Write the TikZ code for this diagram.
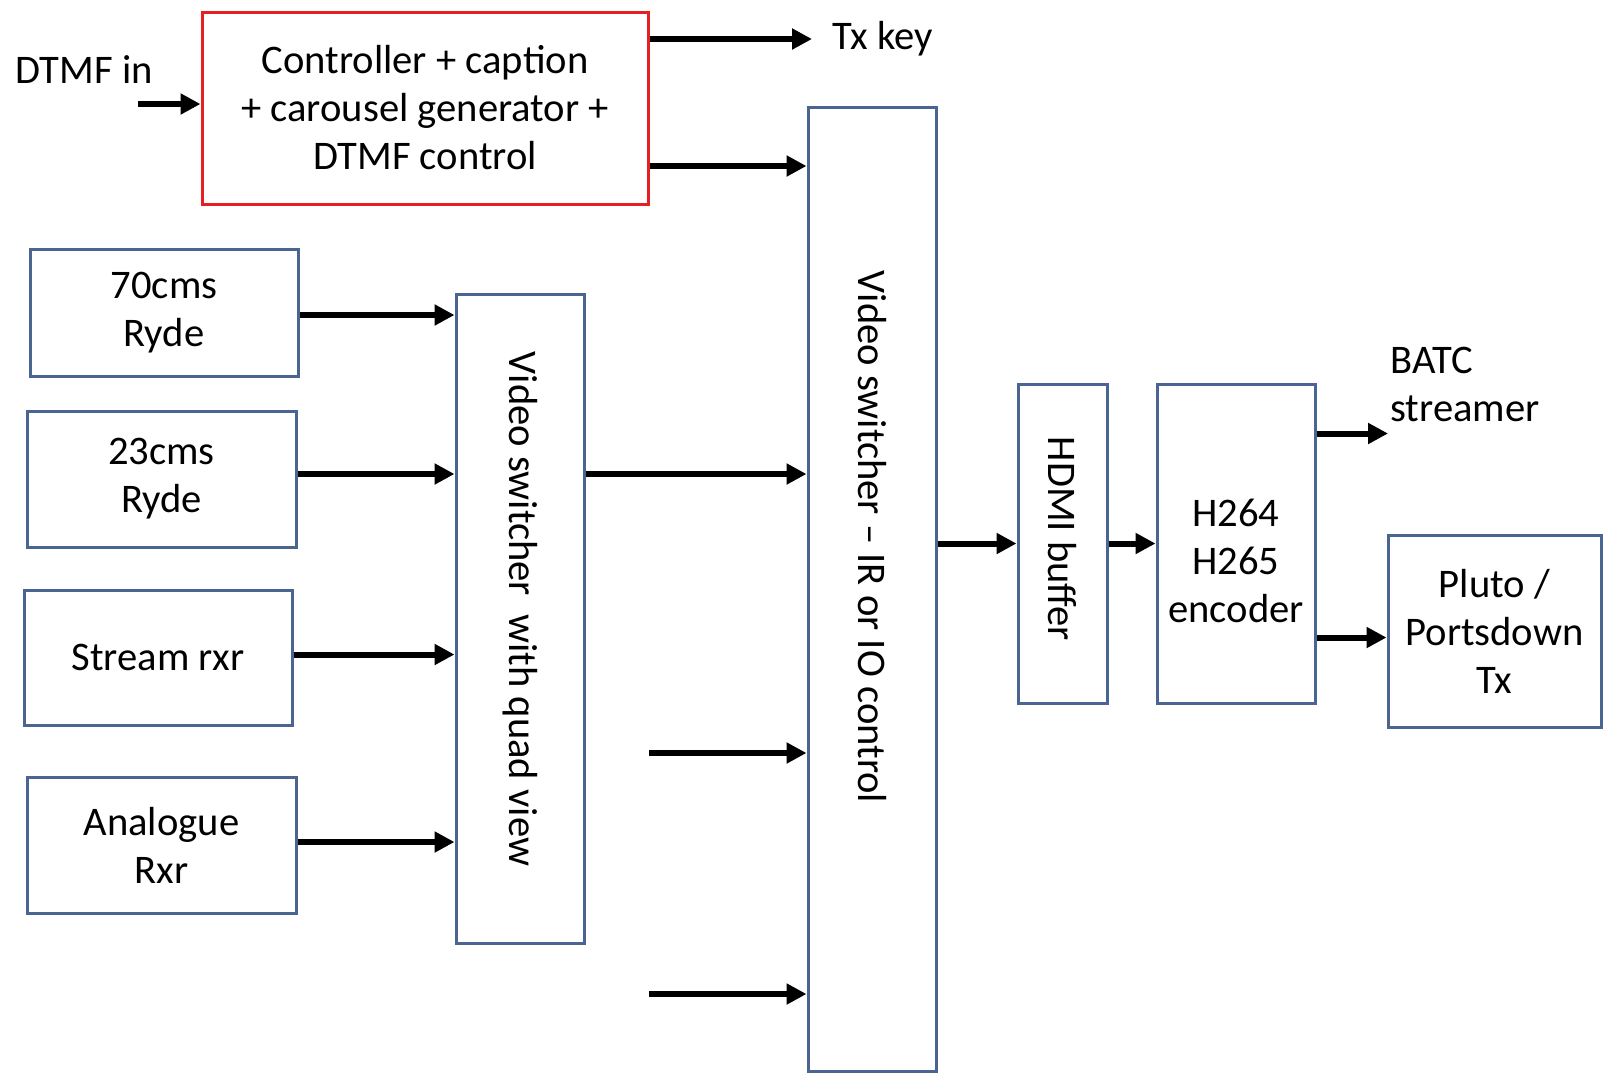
\documentclass[tikz,border=0pt]{standalone}
\usepackage{fontspec}
\setmainfont{Carlito}
\usepackage{tikz}
\usetikzlibrary{arrows.meta}
\definecolor{boxblue}{RGB}{74,101,145}
\definecolor{ctrlred}{RGB}{228,32,36}

\begin{document}
\begin{tikzpicture}[x=0.5pt, y=-0.5pt, >={Triangle[length=10pt,width=10pt]}, font={\fontsize{20.3}{24}\selectfont}]
				\tikzset{
					blkbox/.style={draw=boxblue, line width=1.5pt, rectangle, inner sep=0pt, align=center},
					sig/.style={->, line width=3pt},
				}
				\useasboundingbox (0,0) rectangle (1604,1073);
				% Steuerung oben
				\node[blkbox, draw=ctrlred, minimum width=223pt, minimum height=96pt] (ctrl) at (425,108) {Controller + caption\\+ carousel generator +\\DTMF control};
				\node (dtmfin) at (84,70) {DTMF in};
				\coordinate (dtmf) at (138,104);
				\node[anchor=west, inner sep=10pt] (txkey) at (812,39) {Tx key};
				% Empfaenger links
				\node[blkbox, minimum width=134pt, minimum height=63.5pt] (r70) at (164,313) {70cms\\Ryde};
				\node[blkbox, minimum width=134.5pt, minimum height=68pt] (r23) at (161.5,479) {23cms\\Ryde};
				\node[blkbox, minimum width=134pt, minimum height=67.5pt] (stream) at (158,657.5) {Stream rxr};
				\node[blkbox, minimum width=134.5pt, minimum height=68pt] (ana) at (161.5,845) {Analogue\\Rxr};
				% Umschalter
				\node[blkbox, minimum width=64pt, minimum height=324.5pt] (quad) at (520,618.5) {};
				\node[rotate=-90] (quadlabel) at (520,609) {Video switcher\ \ with quad view};
				\node[blkbox, minimum width=64pt, minimum height=482pt] (sw) at (872,589) {};
				\node[rotate=-90] (swlabel) at (872,537) {Video switcher \textendash{} IR or IO control};
				\coordinate (in1) at (649,753);
				\coordinate (in2) at (649,994);
				% Ausgang rechts
				\node[blkbox, minimum width=44.5pt, minimum height=159.5pt] (hdmi) at (1062.5,543.5) {};
				\node[rotate=-90] (hdmilabel) at (1062.5,539) {HDMI buffer};
				\node[blkbox, minimum width=79pt, minimum height=159.5pt] (enc) at (1236,543.5) {};
				\node[align=center] (enclabel) at (1236,561) {H264\\H265\\encoder};
				\node[anchor=west, align=left, inner sep=1pt] (batc) at (1388,384) {BATC\\streamer};
				\node[blkbox, minimum width=106.5pt, minimum height=96pt] (pluto) at (1494.5,631) {Pluto /\\Portsdown\\Tx};
				% Pfeile
				\draw[sig] (dtmf) -- (dtmf -| ctrl.west);
				\draw[sig] ([yshift=34.5pt]ctrl.east) -- ([yshift=34.5pt]ctrl.east -| txkey.west);
				\draw[sig] ([yshift=-29pt]ctrl.east) -- ([yshift=-29pt]ctrl.east -| sw.west);
				\foreach \src/\dy in {r70/-1,r23/2.5,stream/1.5,ana/1.5} \draw[sig] ([yshift=\dy pt]\src.east) -- ([yshift=\dy pt]\src.east -| quad.west);
				\draw[sig] ([yshift=2.5pt]quad.east |- r23.east) -- ([yshift=2.5pt]sw.west |- r23.east);
				\foreach \src in {in1,in2} \draw[sig] (\src) -- (\src -| sw.west);
				\draw[sig] (hdmi.west -| sw.east) -- (hdmi.west);
				\draw[sig] (hdmi.east) -- (enc.west);
				\draw[sig] ([yshift=55pt]enc.east) -- ([yshift=55pt]enc.east -| batc.west);
				\draw[sig] ([yshift=-47pt]enc.east) -- ([yshift=-47pt]enc.east -| pluto.west);
		\end{tikzpicture}
\end{document}
